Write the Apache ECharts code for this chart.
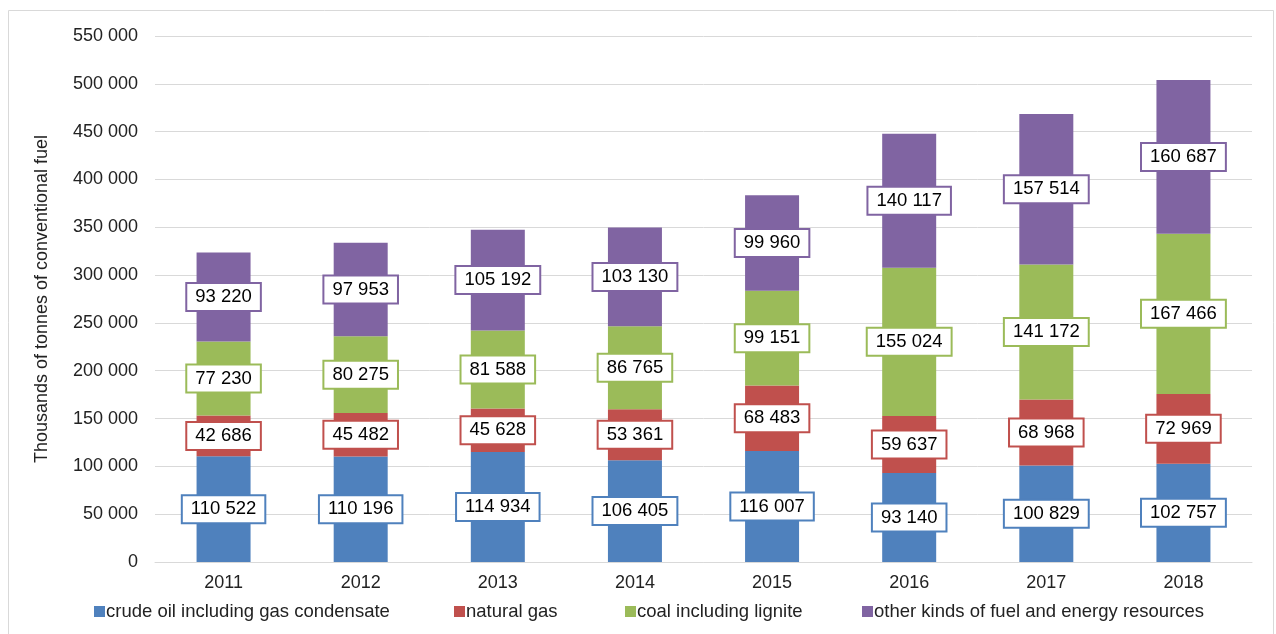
<!DOCTYPE html>
<html>
<head>
<meta charset="utf-8">
<script src="https://cdn.jsdelivr.net/npm/echarts@6/dist/echarts.min.js"></script>
<style>
  html, body { margin: 0; padding: 0; background: #fff; }
  #chart { width: 1276px; height: 634px; }
</style>
</head>
<body>
<div id="chart"></div>
<script>
const years = ["2011", "2012", "2013", "2014", "2015", "2016", "2017", "2018"];
const crudeOil = [110522, 110196, 114934, 106405, 116007, 93140, 100829, 102757];
const naturalGas = [42686, 45482, 45628, 53361, 68483, 59637, 68968, 72969];
const coal = [77230, 80275, 81588, 86765, 99151, 155024, 141172, 167466];
const otherFuel = [93220, 97953, 105192, 103130, 99960, 140117, 157514, 160687];
const seriesNames = [
  "crude oil including gas condensate",
  "natural gas",
  "coal including lignite",
  "other kinds of fuel and energy resources"
];

const fmt = (v) => String(v).replace(/\B(?=(\d{3})+(?!\d))/g, " ");

const font = "Liberation Sans, Arial, sans-serif";

const makeSeries = (name, data, color) => ({
  name,
  type: "bar",
  stack: "total",
  data,
  barWidth: 54,
  itemStyle: { color },
  label: {
    show: true,
    position: "inside",
    formatter: (p) => fmt(p.value),
    color: "#000",
    fontFamily: font,
    fontSize: 18.5,
    lineHeight: 20,
    backgroundColor: "#fff",
    borderColor: color,
    borderWidth: 2,
    padding: [4, 8, 2, 8]
  }
});

// one legend per item so the spacing can follow the original
const legendLefts = [89, 449, 620, 857];
const legends = seriesNames.map((n, i) => ({
  top: 597,
  left: legendLefts[i],
  itemWidth: 11,
  itemHeight: 11,
  itemGap: 0,
  icon: "rect",
  textStyle: { fontSize: 18.5, color: "#222", fontFamily: font, padding: [0, 0, 0, -4] },
  data: [n]
}));

const chart = echarts.init(document.getElementById("chart"));
chart.setOption({
  animation: false,
  textStyle: { fontFamily: font },
  graphic: [{
    type: "rect",
    shape: { x: 8.5, y: 10.5, width: 1265, height: 640 },
    style: { fill: "none", stroke: "#d9d9d9", lineWidth: 1 },
    silent: true
  }],
  grid: { left: 155, right: 24, top: 36, bottom: 72 },
  legend: legends,
  xAxis: {
    type: "category",
    data: years,
    axisTick: { show: false },
    axisLine: { lineStyle: { color: "#d9d9d9", width: 1 } },
    axisLabel: { color: "#222", fontSize: 18, margin: 12, fontFamily: font }
  },
  yAxis: {
    type: "value",
    min: 0,
    max: 550000,
    interval: 50000,
    name: "Thousands of tonnes of conventional fuel",
    nameLocation: "middle",
    nameGap: 104,
    nameTextStyle: { color: "#222", fontSize: 18, fontFamily: font },
    axisLine: { show: false },
    axisTick: { show: false },
    axisLabel: { color: "#222", fontSize: 18, margin: 17, formatter: (v) => fmt(v), fontFamily: font },
    splitLine: { lineStyle: { color: "#d9d9d9", width: 1 } }
  },
  series: [
    makeSeries(seriesNames[0], crudeOil, "#4f81bd"),
    makeSeries(seriesNames[1], naturalGas, "#c0504d"),
    makeSeries(seriesNames[2], coal, "#9bbb59"),
    makeSeries(seriesNames[3], otherFuel, "#8064a2")
  ]
});
</script>
</body>
</html>
